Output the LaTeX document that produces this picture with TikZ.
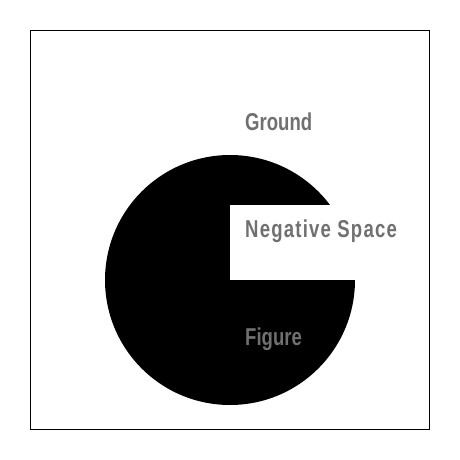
\documentclass[tikz,border=0pt]{standalone}
\usepackage{fontspec}
\newfontfamily\lblfont[FakeStretch=0.76]{Liberation Sans Bold}
\newfontfamily\lblwidefont[FakeStretch=0.76,LetterSpace=5]{Liberation Sans Bold}
\definecolor{lblgray}{HTML}{707070}
\begin{document}
\begin{tikzpicture}[x=1pt,y=-1pt,
  lbl/.style={anchor=base west,inner sep=0pt,font=\lblfont\fontsize{24.4}{28}\selectfont,text=lblgray},
  lblwide/.style={lbl,font=\lblwidefont\fontsize{24.4}{28}\selectfont}]
\useasboundingbox (0,0) rectangle (460,460);
\fill[white] (0,0) rectangle (460,460);
\draw[black,line width=1pt] (30.5,30.5) rectangle (429.5,429.5);
\fill[black] (230,280) circle[radius=125];
\fill[white] (230,205) rectangle (360,280);
\node[lbl] (ground) at (245,130) {Ground};
\node[lblwide] (neg) at (245,237) {Negative Space};
\node[lbl] (fig) at (245,345) {Figure};
\end{tikzpicture}
\end{document}
